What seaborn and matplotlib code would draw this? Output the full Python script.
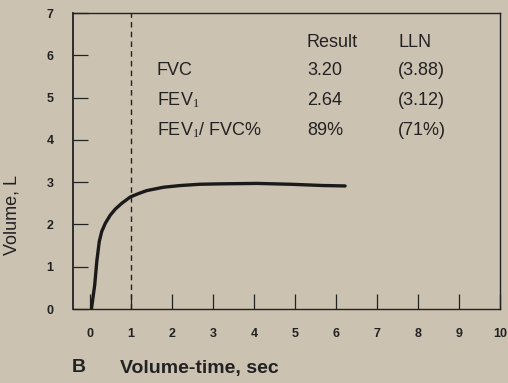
import matplotlib
matplotlib.use("Agg")
import matplotlib.pyplot as plt
import seaborn as sns
import pandas as pd

# Data
time_s = [0.03, 0.11, 0.16, 0.22, 0.28, 0.37, 0.49, 0.61, 0.77, 0.98, 1.18, 1.38,
          1.79, 2.20, 2.68, 3.2, 4.07, 4.88, 5.69, 6.22]
volume_l = [0.0, 0.57, 1.12, 1.59, 1.83, 2.03, 2.22, 2.36, 2.50, 2.65, 2.73, 2.80,
            2.88, 2.92, 2.95, 2.96, 2.97, 2.95, 2.92, 2.91]
x_ticks = list(range(0, 11))
y_ticks = list(range(0, 8))
row_labels = ["FVC", r"FEV$\mathrm{_1}$", r"FEV$\mathrm{_1}$/ FVC%"]
results = ["3.20", "2.64", "89%"]
lln = ["(3.88)", "(3.12)", "(71%)"]

bg = "#ccc2b2"
sns.set_theme(style="ticks")
plt.rcParams["font.family"] = ["Liberation Sans", "DejaVu Sans"]
plt.rcParams["mathtext.fontset"] = "custom"
plt.rcParams["mathtext.rm"] = "Liberation Serif"
plt.rcParams["mathtext.it"] = "Liberation Sans"

fig = plt.figure(figsize=(5.08, 3.83), dpi=100, facecolor=bg)
ax = fig.add_axes([73 / 508, 1 - 309 / 383, (500 - 73) / 508, (309 - 13) / 383])
ax.set_facecolor(bg)

df = pd.DataFrame({"t": time_s, "v": volume_l})
sns.lineplot(data=df, x="t", y="v", ax=ax, color="#1a1a1a", linewidth=2.4)
ax.axvline(1, color="#222222", linestyle=(0, (4, 3)), linewidth=1.0)

ax.set_xlim(-0.42, 10)
ax.set_ylim(0, 7)
ax.set_xticks(x_ticks)
ax.set_yticks(y_ticks)
ax.tick_params(axis="both", direction="in", length=11, width=0.9, colors="#222222",
               labelsize=9, pad=14)
for lab in ax.get_xticklabels() + ax.get_yticklabels():
    lab.set_fontweight("bold")
    lab.set_color("#222222")
ax.set_xlabel("")
ax.set_ylabel("")
for s in ax.spines.values():
    s.set_color("#222222")
    s.set_linewidth(1.0)
ax.spines["left"].set_linewidth(1.3)

# table text
fs = 13
ax.text(5.27, 6.31, "Result", fontsize=fs, color="#222222", va="center")
ax.text(7.52, 6.31, "LLN", fontsize=fs, color="#222222", va="center")
ys = [5.65, 4.94, 4.23]
for lbl, r, l, y in zip(row_labels, results, lln, ys):
    ax.text(1.62, y, lbl, fontsize=fs, color="#222222", va="center")
    ax.text(5.3, y, r, fontsize=fs, color="#222222", va="center")
    ax.text(7.52, y, l, fontsize=fs, color="#222222", va="center")

fig.text(12 / 508, 1 - 215 / 383, "Volume, L", rotation=90, fontsize=13,
         color="#222222", ha="center", va="center")
fig.text(72 / 508, 1 - 368 / 383, "B", fontsize=14, fontweight="bold",
         color="#222222", ha="left", va="center")
fig.text(120 / 508, 1 - 368 / 383, "Volume-time, sec", fontsize=14, fontweight="bold",
         color="#222222", ha="left", va="center")

fig.savefig("out.png", dpi=100, facecolor=bg)
